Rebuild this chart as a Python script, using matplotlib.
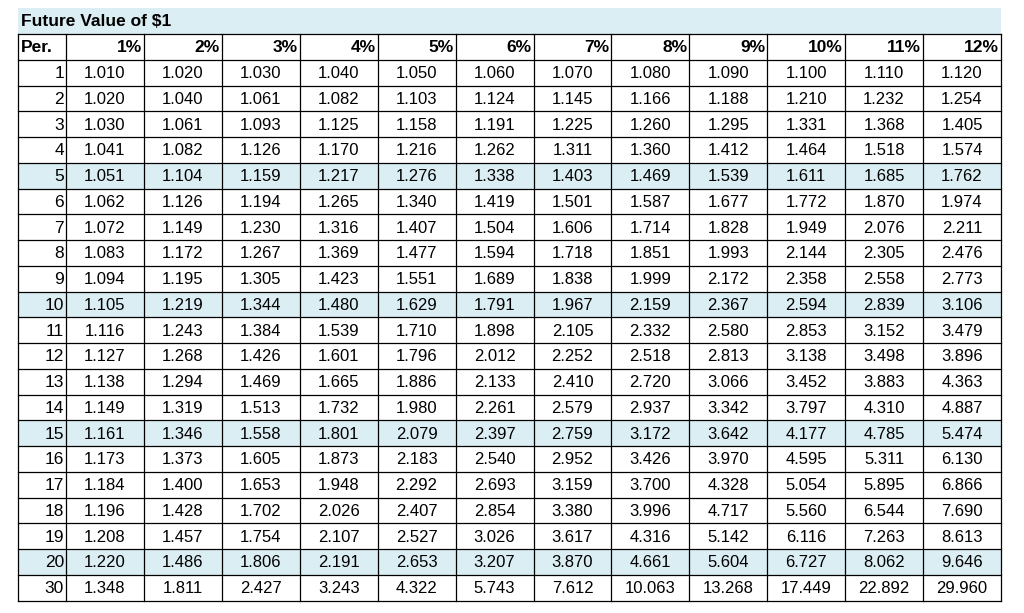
import matplotlib.pyplot as plt
from matplotlib.patches import Rectangle

title = "Future Value of $1"
rates = ["1%", "2%", "3%", "4%", "5%", "6%", "7%", "8%", "9%", "10%", "11%", "12%"]
periods = [1, 2, 3, 4, 5, 6, 7, 8, 9, 10, 11, 12, 13, 14, 15, 16, 17, 18, 19, 20, 30]
values = [
    [1.010, 1.020, 1.030, 1.040, 1.050, 1.060, 1.070, 1.080, 1.090, 1.100, 1.110, 1.120],
    [1.020, 1.040, 1.061, 1.082, 1.103, 1.124, 1.145, 1.166, 1.188, 1.210, 1.232, 1.254],
    [1.030, 1.061, 1.093, 1.125, 1.158, 1.191, 1.225, 1.260, 1.295, 1.331, 1.368, 1.405],
    [1.041, 1.082, 1.126, 1.170, 1.216, 1.262, 1.311, 1.360, 1.412, 1.464, 1.518, 1.574],
    [1.051, 1.104, 1.159, 1.217, 1.276, 1.338, 1.403, 1.469, 1.539, 1.611, 1.685, 1.762],
    [1.062, 1.126, 1.194, 1.265, 1.340, 1.419, 1.501, 1.587, 1.677, 1.772, 1.870, 1.974],
    [1.072, 1.149, 1.230, 1.316, 1.407, 1.504, 1.606, 1.714, 1.828, 1.949, 2.076, 2.211],
    [1.083, 1.172, 1.267, 1.369, 1.477, 1.594, 1.718, 1.851, 1.993, 2.144, 2.305, 2.476],
    [1.094, 1.195, 1.305, 1.423, 1.551, 1.689, 1.838, 1.999, 2.172, 2.358, 2.558, 2.773],
    [1.105, 1.219, 1.344, 1.480, 1.629, 1.791, 1.967, 2.159, 2.367, 2.594, 2.839, 3.106],
    [1.116, 1.243, 1.384, 1.539, 1.710, 1.898, 2.105, 2.332, 2.580, 2.853, 3.152, 3.479],
    [1.127, 1.268, 1.426, 1.601, 1.796, 2.012, 2.252, 2.518, 2.813, 3.138, 3.498, 3.896],
    [1.138, 1.294, 1.469, 1.665, 1.886, 2.133, 2.410, 2.720, 3.066, 3.452, 3.883, 4.363],
    [1.149, 1.319, 1.513, 1.732, 1.980, 2.261, 2.579, 2.937, 3.342, 3.797, 4.310, 4.887],
    [1.161, 1.346, 1.558, 1.801, 2.079, 2.397, 2.759, 3.172, 3.642, 4.177, 4.785, 5.474],
    [1.173, 1.373, 1.605, 1.873, 2.183, 2.540, 2.952, 3.426, 3.970, 4.595, 5.311, 6.130],
    [1.184, 1.400, 1.653, 1.948, 2.292, 2.693, 3.159, 3.700, 4.328, 5.054, 5.895, 6.866],
    [1.196, 1.428, 1.702, 2.026, 2.407, 2.854, 3.380, 3.996, 4.717, 5.560, 6.544, 7.690],
    [1.208, 1.457, 1.754, 2.107, 2.527, 3.026, 3.617, 4.316, 5.142, 6.116, 7.263, 8.613],
    [1.220, 1.486, 1.806, 2.191, 2.653, 3.207, 3.870, 4.661, 5.604, 6.727, 8.062, 9.646],
    [1.348, 1.811, 2.427, 3.243, 4.322, 5.743, 7.612, 10.063, 13.268, 17.449, 22.892, 29.960],
]
highlight = [5, 10, 15, 20]

plt.rcParams['font.family'] = ['Liberation Sans', 'DejaVu Sans']
fig = plt.figure(figsize=(10.24, 6.13), dpi=100)
ax = fig.add_axes([0, 0, 1, 1])
ax.set_xlim(0, 1024)
ax.set_ylim(613, 0)
ax.axis('off')

blue = '#dbeef4'
left, per_w, right = 18, 48, 1001
col_w = (right - left - per_w) / len(rates)
top, row_h = 34, 25.75
n_rows = len(periods) + 1

# title band
ax.add_patch(Rectangle((left, 8), right - left, top - 8, color=blue, lw=0))
ax.text(left + 3, 21.5, title, fontsize=12.5, fontweight='bold', va='center')

# highlighted rows
for i, p in enumerate(periods):
    if p in highlight:
        y0 = top + (i + 1) * row_h
        ax.add_patch(Rectangle((left, y0), right - left, row_h, color=blue, lw=0))

# grid lines
for r in range(n_rows + 1):
    y = top + r * row_h
    ax.plot([left, right], [y, y], color='black', lw=0.9)
xs = [left, left + per_w] + [left + per_w + (c + 1) * col_w for c in range(len(rates))]
for x in xs:
    ax.plot([x, x], [top, top + n_rows * row_h], color='black', lw=0.9)

# header
yh = top + row_h / 2 + 1
ax.text(left + 3, yh, "Per.", fontsize=12.5, fontweight='bold', va='center')
for c, lab in enumerate(rates):
    ax.text(xs[c + 2] - 2, yh, lab, fontsize=12.5, fontweight='bold', va='center', ha='right')

# body
for i, p in enumerate(periods):
    y = top + (i + 1.5) * row_h + 1
    ax.text(left + per_w - 2, y, str(p), fontsize=12.5, va='center', ha='right')
    for c, v in enumerate(values[i]):
        xc = (xs[c + 1] + xs[c + 2]) / 2
        ax.text(xc, y, f"{v:.3f}", fontsize=12, va='center', ha='center')

fig.savefig('out.png', dpi=100)
